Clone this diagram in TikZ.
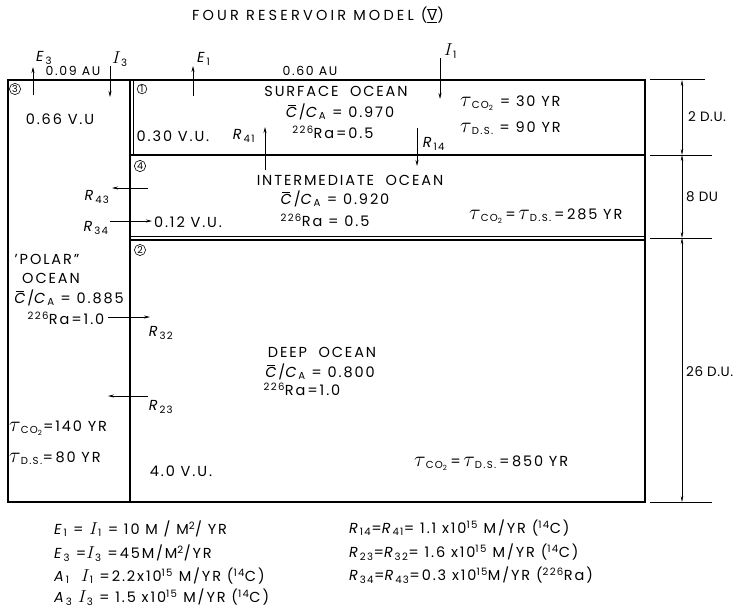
\documentclass[tikz,border=0pt]{standalone}
\usepackage{fontspec}
\usepackage{graphicx}
\setmainfont[LetterSpace=13]{Poppins}
\newfontfamily\titlefont[LetterSpace=22]{Poppins}
\newfontfamily\dimfont[LetterSpace=4]{Poppins}
\usetikzlibrary{arrows.meta}
\newcommand{\Cbar}{\makebox[0pt][l]{\hspace{0.12em}\rule[0.83em]{0.55em}{0.45pt}}\textit{C}}
\newcommand{\CbarCA}{\Cbar/\textit{C}\textsubscript{A}}
\newcommand{\tauchar}{\scalebox{1.5}{$\tau$}}
\newcommand{\tauco}{\tauchar\textsubscript{CO\textsubscript{2}}}
\newcommand{\tauds}{\tauchar\textsubscript{D.S.}}
\newcommand{\Ra}{\textsuperscript{226}Ra}
\newcommand{\Rs}[1]{\textit{R}\textsubscript{#1}}
\newcommand{\Ii}[1]{\scalebox{1.2}{$I$}\textsubscript{#1}}
\begin{document}
\begin{tikzpicture}[x=1pt,y=-1pt,
  txt/.style={font=\fontsize{14.5}{16}\selectfont, inner sep=0pt, align=center},
  dimlab/.style={font=\fontsize{13.5}{15}\dimfont, inner sep=0pt, anchor=west},
  leg/.style={font=\fontsize{14.5}{16}\selectfont, inner sep=0pt, anchor=west},
  sm/.style={font=\fontsize{12.5}{14}\selectfont, inner sep=0pt},
  num/.style={draw, circle, inner sep=0.8pt, line width=0.6pt, font=\fontsize{9.5}{10}\selectfont},
  box/.style={line width=1.1pt},
  flux/.style={line width=0.7pt, -{Stealth[length=6pt,width=3pt]}},
  dim/.style={line width=0.5pt, {Stealth[length=6pt,width=2.5pt]}-{Stealth[length=6pt,width=2.5pt]}},
  ext/.style={line width=0.7pt}]
\useasboundingbox (0,0) rectangle (743,613);
% title
\node[txt, font=\fontsize{14.5}{16}\titlefont] (title) at (318,15) {FOUR RESERVOIR MODEL ($\overline{\underline{\mathrm{V}}}$)};
% boxes
\draw[box] (8,80) rectangle (130,502);
\draw[box] (130,80) -- (645,80) -- (645,502) -- (130,502);
\draw[box] (133.5,80) -- (133.5,155);
\draw[box] (130,155) -- (645,155);
\draw[box] (130,236.5) -- (645,236.5);
\draw[box] (130,240) -- (645,240);
% dimension lines
\draw[ext] (650,79) -- (705,79);
\draw[ext] (650,155) -- (712,155);
\draw[ext] (650,238) -- (712,238);
\draw[ext] (650,502) -- (712,502);
\coordinate (d0) at (682,80);
\coordinate (d1) at (682,155);
\coordinate (d2) at (682,238);
\coordinate (d3) at (682,502);
\draw[dim] (d0) -- (d1);
\draw[dim] (d1) -- (d2);
\draw[dim] (d2) -- (d3);
\node[dimlab] (du2) at (688,117) {2 D.U.};
\node[dimlab] (du8) at (686,197) {8 DU};
\node[dimlab] (du26) at (686,372) {26 D.U.};
% circled numbers
\node[num] (n3) at (15,89) {3};
\node[num] (n1) at (142,89) {1};
\node[num] (n4) at (140,166) {4};
\node[num] (n2) at (140,250) {2};
% top fluxes
\coordinate (e3a) at (33,95); \coordinate (e3b) at (33,67);
\draw[flux] (e3a) -- (e3b);
\node[txt, anchor=west] (E3) at (36,58) {\textit{E}\textsubscript{3}};
\node[sm] (au3) at (73,71) {0.09 AU};
\coordinate (i3a) at (110,66); \coordinate (i3b) at (110,97);
\draw[flux] (i3a) -- (i3b);
\node[txt, anchor=west] (I3) at (112,59) {\Ii{3}};
\coordinate (e1a) at (193,96); \coordinate (e1b) at (193,66);
\draw[flux] (e1a) -- (e1b);
\node[txt, anchor=west] (E1) at (197,59) {\textit{E}\textsubscript{1}};
\node[sm] (au1) at (310,71) {0.60 AU};
\coordinate (i1a) at (440,58); \coordinate (i1b) at (440,99);
\draw[flux] (i1a) -- (i1b);
\node[txt, anchor=west] (I1) at (444,51) {\Ii{1}};
% surface ocean
\node[txt] (surf) at (336,91) {SURFACE\ \ OCEAN};
\node[txt] (surfc) at (340,112) {\CbarCA\ = 0.970};
\node[txt] (surfr) at (333,132) {\Ra=0.5};
\node[txt] (vu030) at (173,136) {0.30 V.U.};
\node[txt, anchor=west] (surft1) at (460,103) {\tauco\ = 30 YR};
\node[txt, anchor=west] (surft2) at (460,128) {\tauds\ = 90 YR};
% R41, R14
\coordinate (r41a) at (265,170); \coordinate (r41b) at (265,127);
\draw[flux] (r41a) -- (r41b);
\node[txt] (R41) at (244,136) {\Rs{41}};
\coordinate (r14a) at (417,128); \coordinate (r14b) at (417,166);
\draw[flux] (r14a) -- (r14b);
\node[txt] (R14) at (434,144) {\Rs{14}};
% intermediate
\node[txt] (inter) at (350,180) {INTERMEDIATE\ \ OCEAN};
\node[txt] (interc) at (335,199) {\CbarCA\ = 0.920};
\node[txt] (interr) at (325,220) {\Ra\ = 0.5};
\node[txt, anchor=west] (intert) at (469,216) {\tauco\,=\,\tauds\,=\,285 YR};
\node[txt] (vu012) at (188,222) {0.12 V.U.};
% R43, R34
\coordinate (r43a) at (148,188); \coordinate (r43b) at (112,188);
\draw[flux] (r43a) -- (r43b);
\node[txt] (R43) at (97,197) {\Rs{43}};
\coordinate (r34a) at (110,221); \coordinate (r34b) at (152,221);
\draw[flux] (r34a) -- (r34b);
\node[txt] (R34) at (96,228) {\Rs{34}};
% polar ocean
\node[txt] (vu066) at (60,119) {0.66 V.U};
\node[txt] (polar1) at (47,259) {'POLAR''};
\node[txt] (polar2) at (51,278) {OCEAN};
\node[txt] (polarc) at (69,298) {\CbarCA\ = 0.885};
\node[txt] (polarr) at (66,318) {\Ra=1.0};
\node[txt, anchor=west] (polart1) at (9,428) {\tauco=140 YR};
\node[txt, anchor=west] (polart2) at (9,458) {\tauds=\,80 YR};
% R32, R23
\coordinate (r32a) at (108,317); \coordinate (r32b) at (150,317);
\draw[flux] (r32a) -- (r32b);
\node[txt] (R32) at (161,333) {\Rs{32}};
\coordinate (r23a) at (148,396); \coordinate (r23b) at (108,396);
\draw[flux] (r23a) -- (r23b);
\node[txt] (R23) at (161,407) {\Rs{23}};
% deep ocean
\node[txt] (deep) at (322,352) {DEEP\ \ OCEAN};
\node[txt] (deepc) at (320,372) {\CbarCA\ = 0.800};
\node[txt] (deepr) at (302,389) {\Ra=1.0};
\node[txt] (vu40) at (181,471) {4.0 V.U.};
\node[txt, anchor=west] (deept) at (414,463) {\tauco\,=\,\tauds\,=\,850 YR};
% legend
\node[leg] (L1) at (54,529) {\textit{E}\textsubscript{1} = \Ii{1} = 10 M / M\textsuperscript{2}/ YR};
\node[leg] (L2) at (54,553) {\textit{E}\textsubscript{3} =\Ii{3} =45M/M\textsuperscript{2}/YR};
\node[leg] (L3) at (54,576) {\textit{A}\textsubscript{1}\ \ \Ii{1} =2.2x10\textsuperscript{15} M/YR (\textsuperscript{14}C)};
\node[leg] (L4) at (54,597) {\textit{A}\textsubscript{3} \Ii{3} = 1.5 x10\textsuperscript{15} M/YR (\textsuperscript{14}C)};
\node[leg] (L5) at (349,528) {\Rs{14}=\Rs{41}= 1.1 x10\textsuperscript{15} M/YR (\textsuperscript{14}C)};
\node[leg] (L6) at (349,552) {\Rs{23}=\Rs{32}= 1.6 x10\textsuperscript{15} M/YR (\textsuperscript{14}C)};
\node[leg] (L7) at (349,575) {\Rs{34}=\Rs{43}=0.3 x10\textsuperscript{15}M/YR (\textsuperscript{226}Ra)};
\end{tikzpicture}
\end{document}
